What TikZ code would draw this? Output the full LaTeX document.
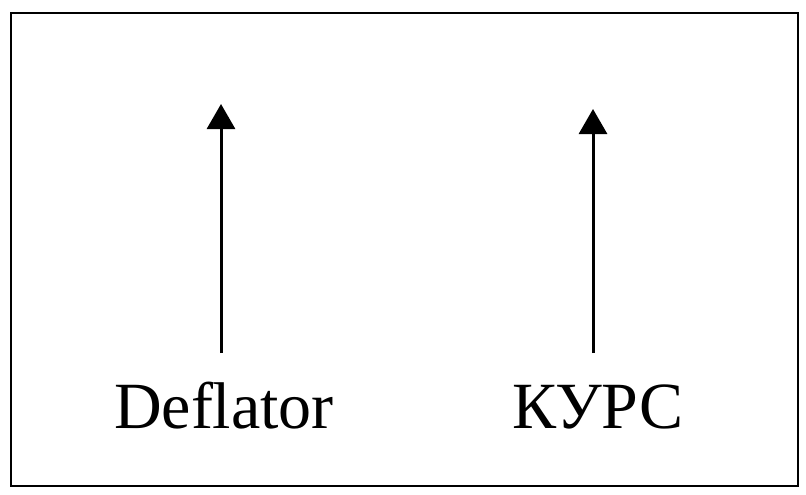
\documentclass[tikz,border=0pt]{standalone}
\usepackage{fontspec}
\setmainfont{Liberation Serif}
\usetikzlibrary{arrows.meta}
\begin{document}
\begin{tikzpicture}[x=1pt,y=-1pt,
  frame/.style={draw=black,line width=2pt},
  arr/.style={draw=black,line width=3pt,-{Triangle[length=25pt,width=28pt]}},
  lbl/.style={anchor=base,inner sep=0pt,font=\fontsize{66}{70}\selectfont}]
\useasboundingbox (0,0) rectangle (806,495);
\draw[frame] (11,13) rectangle (798,486);
\node[lbl] (defl) at (224,428) {Deflator};
\node[lbl] (kurs) at (598,428) {КУРС};
\coordinate (d0) at (221,353);
\coordinate (d1) at (221,104);
\coordinate (k0) at (593,353);
\coordinate (k1) at (593,109);
\draw[arr] (d0) -- (d1);
\draw[arr] (k0) -- (k1);
\end{tikzpicture}
\end{document}
